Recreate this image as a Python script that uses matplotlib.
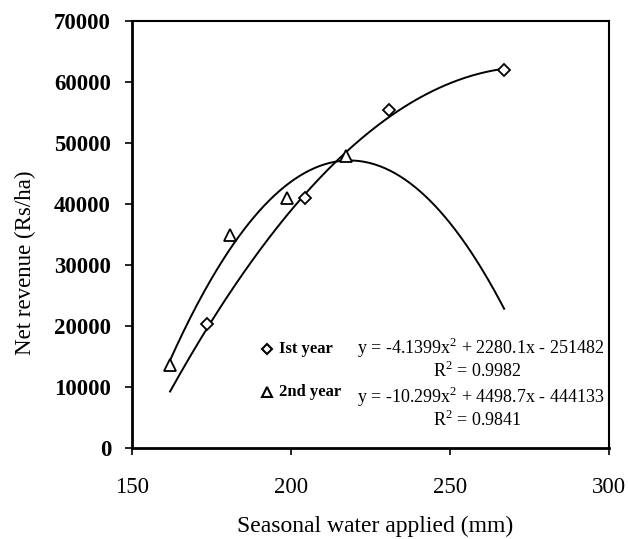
import numpy as np
import matplotlib
matplotlib.use("Agg")
import matplotlib.pyplot as plt

plt.rcParams['font.family'] = ['Liberation Serif', 'DejaVu Serif']
plt.rcParams['mathtext.fontset'] = 'custom'
plt.rcParams['mathtext.rm'] = 'Liberation Serif'

# Data
water_y1 = [173.6, 204.4, 230.8, 267.0]
revenue_y1 = [20300, 41000, 55400, 62000]
water_y2 = [162.0, 180.8, 198.8, 217.3]
revenue_y2 = [13600, 34900, 41000, 47800]

# Trendline coefficients (quadratic: a x^2 + b x + c), as shown on chart
coef_y1 = [-4.1399, 2280.1, -251482]
coef_y2 = [-10.299, 4498.7, -444133]
trend_range_y1 = [162, 267]
trend_range_y2 = [162, 267]

eq_y1 = "y = -4.1399x$^2$ + 2280.1x - 251482"
r2_y1 = "R$^2$ = 0.9982"
eq_y2 = "y = -10.299x$^2$ + 4498.7x - 444133"
r2_y2 = "R$^2$ = 0.9841"

xticks = [150, 200, 250, 300]
yticks = [0, 10000, 20000, 30000, 40000, 50000, 60000, 70000]

fig = plt.figure(figsize=(6.28, 5.39), dpi=100)
ax = fig.add_axes([0.210, 0.169, 0.760, 0.792])

xs1 = np.linspace(trend_range_y1[0], trend_range_y1[1], 200)
xs2 = np.linspace(trend_range_y2[0], trend_range_y2[1], 200)
ax.plot(xs1, np.polyval(coef_y1, xs1), color='black', lw=1.4)
ax.plot(xs2, np.polyval(coef_y2, xs2), color='black', lw=1.4)

ax.plot(water_y1, revenue_y1, linestyle='none', marker='D', markersize=6,
        markerfacecolor='white', markeredgecolor='black', markeredgewidth=1.3)
ax.plot(water_y2, revenue_y2, linestyle='none', marker='^', markersize=8,
        markerfacecolor='white', markeredgecolor='black', markeredgewidth=1.3)

ax.set_xlim(150, 300)
ax.set_ylim(0, 70000)
ax.set_xticks(xticks)
ax.set_yticks(yticks)
ax.set_xticklabels([str(t) for t in xticks], fontsize=16.5)
ax.set_yticklabels([str(t) for t in yticks], fontsize=16.5, fontweight='bold')
ax.tick_params(axis='both', direction='out', length=5, width=1.2)
ax.tick_params(axis='x', pad=16)
ax.tick_params(axis='y', pad=10)
ax.tick_params(axis='x', top=False)
ax.tick_params(axis='y', right=False)

for s in ['left', 'bottom']:
    ax.spines[s].set_linewidth(2.0)
for s in ['top', 'right']:
    ax.spines[s].set_linewidth(1.5)

ax.set_xlabel("Seasonal water applied (mm)", fontsize=17)
ax.xaxis.label.set_va('center')
ax.xaxis.set_label_coords(0.509, -0.185)
ax.set_ylabel("Net revenue (Rs/ha)", fontsize=16.5)
ax.yaxis.label.set_va('center')
ax.yaxis.set_label_coords(-0.222, 0.433)

# Legend-like annotations
ax.plot([192.5], [16230], linestyle='none', marker='D', markersize=5,
        markerfacecolor='white', markeredgecolor='black', markeredgewidth=1.5)
ax.plot([192.5], [9100], linestyle='none', marker='^', markersize=7,
        markerfacecolor='white', markeredgecolor='black', markeredgewidth=1.5)
ax.text(196.2, 16230, "Ist year", fontsize=12, fontweight='bold', va='center', ha='left')
ax.text(196.2, 9100, "2nd year", fontsize=12, fontweight='bold', va='center', ha='left')
ax.text(298.5, 16400, eq_y1, fontsize=13, va='center', ha='right')
ax.text(258.5, 12700, r2_y1, fontsize=13, va='center', ha='center')
ax.text(298.5, 8300, eq_y2, fontsize=13, va='center', ha='right')
ax.text(258.5, 4600, r2_y2, fontsize=13, va='center', ha='center')

fig.savefig("out.png", dpi=100)
